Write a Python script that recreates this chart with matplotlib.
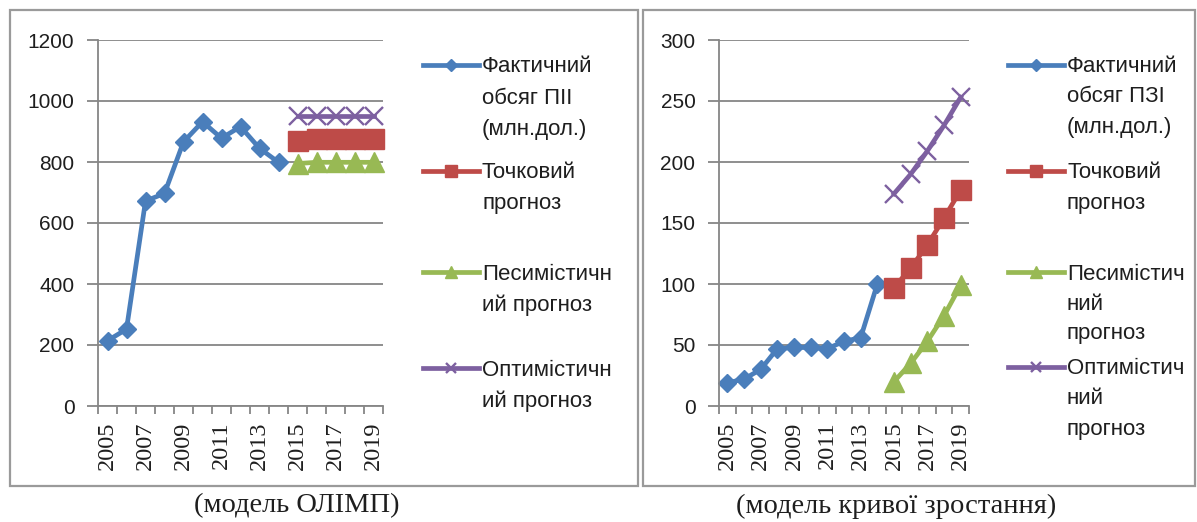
import matplotlib
matplotlib.use("Agg")
import matplotlib.pyplot as plt
from matplotlib.lines import Line2D
from matplotlib.patches import Rectangle

years = list(range(2005, 2020))
hist_years = years[:10]
fc_years = years[10:]

# модель ОЛІМП (ПІІ)
olimp_fact = [214, 252, 672, 697, 866, 932, 878, 916, 845, 799]
olimp_point = [868, 874, 874, 874, 874]
olimp_pess = [795, 799, 799, 799, 799]
olimp_opt = [952, 952, 952, 952, 952]

# модель кривої зростання (ПЗІ)
growth_fact = [19, 22, 30, 47, 48, 48, 47, 53, 56, 100]
growth_point = [97, 113, 132, 154, 177]
growth_pess = [20, 35, 53, 74, 99]
growth_opt = [174, 190, 209, 230, 253]

labels_left = [["Фактичний", "обсяг ПІІ", "(млн.дол.)"], ["Точковий", "прогноз"],
               ["Песимістичн", "ий прогноз"], ["Оптимістичн", "ий прогноз"]]
labels_right = [["Фактичний", "обсяг ПЗІ", "(млн.дол.)"], ["Точковий", "прогноз"],
                ["Песимістич", "ний", "прогноз"], ["Оптимістич", "ний", "прогноз"]]

BLUE, RED, GREEN, PURPLE = "#4A7EBB", "#BE4B48", "#98B954", "#7D60A0"
GRID = "#868686"
TXT = "#1E1E1E"
styles = [
    dict(color=BLUE, marker="D", ms=9.5),
    dict(color=RED, marker="s", ms=15),
    dict(color=GREEN, marker="^", ms=14),
    dict(color=PURPLE, marker="x", ms=13, mew=1.7),
]

W, H = 1197, 522
fig = plt.figure(figsize=(W / 100, H / 100), dpi=100)


def px(x, y):
    return x / W, 1 - y / H


def draw_panel(rect, fact, point, pess, opt, ymax, ystep, leg_x, leg_rows, labels, pitch):
    ax = fig.add_axes(rect)
    idx_hist = [years.index(y) for y in hist_years]
    idx_fc = [years.index(y) for y in fc_years]
    series = [(idx_hist, fact), (idx_fc, point), (idx_fc, pess), (idx_fc, opt)]
    for (xs, ys), st in zip(series, styles):
        ax.plot(xs, ys, lw=3.4, mec=st["color"], clip_on=False, **st)
    ax.set_xlim(-0.5, len(years) - 0.5)
    ax.set_ylim(0, ymax)
    ax.set_yticks(range(0, ymax + 1, ystep))
    ax.grid(axis="y", color=GRID, lw=1.3)
    ax.set_axisbelow(True)
    for s in ["top", "right"]:
        ax.spines[s].set_visible(False)
    for s in ["left", "bottom"]:
        ax.spines[s].set_color(GRID)
        ax.spines[s].set_linewidth(1.3)
    ax.tick_params(axis="y", length=8, width=1.3, color=GRID, pad=9,
                   labelsize=15, labelcolor=TXT)
    for t in ax.get_yticklabels():
        t.set_fontfamily("Liberation Sans")
    ax.set_xticks([i - 0.5 for i in range(len(years) + 1)], minor=True)
    ax.set_xticks(range(0, len(years), 2))
    ax.set_xticklabels([str(y) for y in years[::2]], rotation=90,
                       fontfamily="Liberation Serif", fontsize=17.5, color=TXT)
    ax.tick_params(axis="x", which="major", length=0, pad=11)
    ax.tick_params(axis="x", which="minor", length=6, width=1.3, color=GRID)

    # legend, drawn line by line
    for (row_y, lines), st in zip(zip(leg_rows, labels), styles):
        x0, y0 = px(leg_x, row_y)
        x1, _ = px(leg_x + 56, row_y)
        xm, _ = px(leg_x + 28, row_y)
        fig.add_artist(Line2D([x0, x1], [y0, y0], transform=fig.transFigure,
                              color=st["color"], lw=3.4))
        fig.add_artist(Line2D([xm], [y0], transform=fig.transFigure,
                              color=st["color"], marker=st["marker"],
                              ms=st["ms"] * 0.6, mew=st.get("mew", 1)))
        for k, line in enumerate(lines):
            tx, ty = px(leg_x + 59, row_y + 2 + k * pitch)
            fig.text(tx, ty, line, fontsize=16, fontfamily="Liberation Sans",
                     color=TXT, va="center", ha="left")
    return ax


draw_panel([98 / W, 1 - 406 / H, 285 / W, 366 / H],
           olimp_fact, olimp_point, olimp_pess, olimp_opt, 1200, 200,
           423, [65, 171, 272, 368], labels_left, 31)
draw_panel([719 / W, 1 - 406 / H, 250 / W, 366 / H],
           growth_fact, growth_point, growth_pess, growth_opt, 300, 50,
           1008, [65, 171, 272, 367], labels_right, 30)

# frames
for x0, x1 in [(10, 638), (643, 1195)]:
    fig.add_artist(Rectangle(px(x0, 486), (x1 - x0) / W, 476 / H,
                             transform=fig.transFigure, fill=False,
                             ec="#9A9A9A", lw=1.6))

fig.text(*px(297, 506), "(модель ОЛІМП)", ha="center", va="center",
         fontfamily="Liberation Serif", fontsize=20.5, color=TXT)
fig.text(*px(896, 506), "(модель кривої зростання)", ha="center", va="center",
         fontfamily="Liberation Serif", fontsize=20.5, color=TXT)

fig.savefig("out.png", dpi=100)
